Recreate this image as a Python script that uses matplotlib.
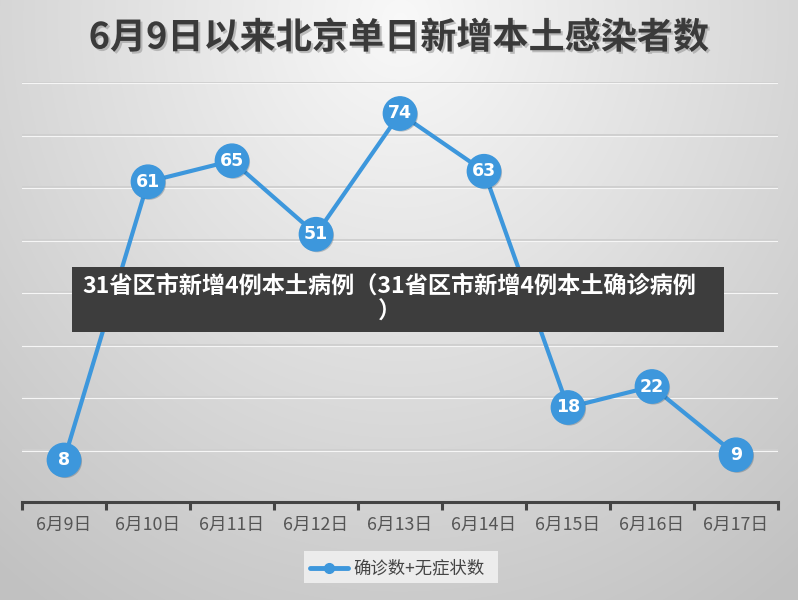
import numpy as np
import matplotlib.pyplot as plt
import matplotlib.patheffects as pe
from matplotlib.patches import Rectangle

plt.rcParams['font.family'] = ['Noto Sans CJK SC', 'DejaVu Sans']

# datos
fechas = ['6月9日', '6月10日', '6月11日', '6月12日', '6月13日',
          '6月14日', '6月15日', '6月16日', '6月17日']
casos = [8, 61, 65, 51, 74, 63, 18, 22, 9]
titulo = '6月9日以来北京单日新增本土感染者数'
serie = '确诊数+无症状数'
banner = '31省区市新增4例本土病例（31省区市新增4例本土确诊病例\n）'

azul = '#3d97dc'

fig = plt.figure(figsize=(7.98, 6.0), dpi=100)

# fondo con degradado radial
bg = fig.add_axes([0, 0, 1, 1], zorder=-10)
yy, xx = np.mgrid[0:600, 0:798]
r = np.sqrt(((xx - 400) / 560.0) ** 2 + ((yy - 20) / 620.0) ** 2)
g = np.clip(0.975 - 0.19 * r, 0.76, 1.0)
bg.imshow(np.dstack([g, g, g]), aspect='auto', extent=[0, 1, 0, 1])
bg.axis('off')

ax = fig.add_axes([22 / 798, 1 - 502 / 600, 756 / 798, 420 / 600])
ax.set_facecolor('none')
x = np.arange(len(fechas))
ax.set_xlim(-0.5, len(fechas) - 0.5)
ax.set_ylim(0, 80)

for v in range(10, 81, 10):
    ax.axhline(v, color='#cfcfcf', lw=1.4, zorder=1)
    ax.axhline(v - 0.25, color='#f6f6f6', lw=0.8, zorder=1)

ax.plot(x, casos, '-', color=azul, lw=3.0, zorder=3,
        solid_capstyle='round')
ax.plot(x, casos, 'o', color=azul, ms=24, zorder=4,
        path_effects=[pe.SimplePatchShadow(offset=(1, -1), alpha=0.25),
                      pe.Normal()])
for xi, yi in zip(x, casos):
    ax.text(xi, yi, str(yi), color='white', fontsize=12.5, fontweight='bold',
            ha='center', va='center', zorder=5, family='DejaVu Sans')

for s in ['top', 'right', 'left']:
    ax.spines[s].set_visible(False)
ax.spines['bottom'].set_color('#444444')
ax.spines['bottom'].set_linewidth(2.2)
ax.set_yticks([])
ax.set_xticks(np.arange(-0.5, len(fechas)), minor=False)
ax.set_xticklabels([])
ax.tick_params(axis='x', length=6, width=2.2, color='#444444', direction='out')
for xi, f in zip(x, fechas):
    ax.text(xi, -4.3, f, ha='center', va='center', fontsize=12.8,
            color='#555555')

fig.text(0.5, 1 - 38 / 600, titulo, ha='center', va='center', fontsize=26,
         fontweight='bold', color='#3a3a3a',
         path_effects=[pe.withSimplePatchShadow(offset=(1.5, -1.5),
                                                 shadow_rgbFace='#999999',
                                                 alpha=0.6)])

# leyenda
fig.patches.append(Rectangle((304 / 798, 1 - 583 / 600), 194 / 798, 32 / 600,
                             transform=fig.transFigure, facecolor='#ececec',
                             edgecolor='none', zorder=1))
fig.lines.append(plt.Line2D([310 / 798, 348 / 798], [1 - 568 / 600] * 2,
                            transform=fig.transFigure, color=azul, lw=3.5,
                            solid_capstyle='round'))
fig.lines.append(plt.Line2D([329 / 798], [1 - 568 / 600], marker='o',
                            ms=7, color=azul, transform=fig.transFigure))
fig.text(353 / 798, 1 - 568 / 600, serie, ha='left', va='center',
         fontsize=12.5, color='#444444')

# banda superpuesta
fig.patches.append(Rectangle((72 / 798, 1 - 332 / 600), 652 / 798, 65 / 600,
                             transform=fig.transFigure, facecolor='#3d3d3d',
                             edgecolor='none', zorder=10))
fig.text(389 / 798, 1 - 299 / 600, banner, ha='center', va='center',
         fontsize=16.7, fontweight='bold', color='white', zorder=11,
         linespacing=1.15, multialignment='center')

fig.savefig('out.png', dpi=100)
